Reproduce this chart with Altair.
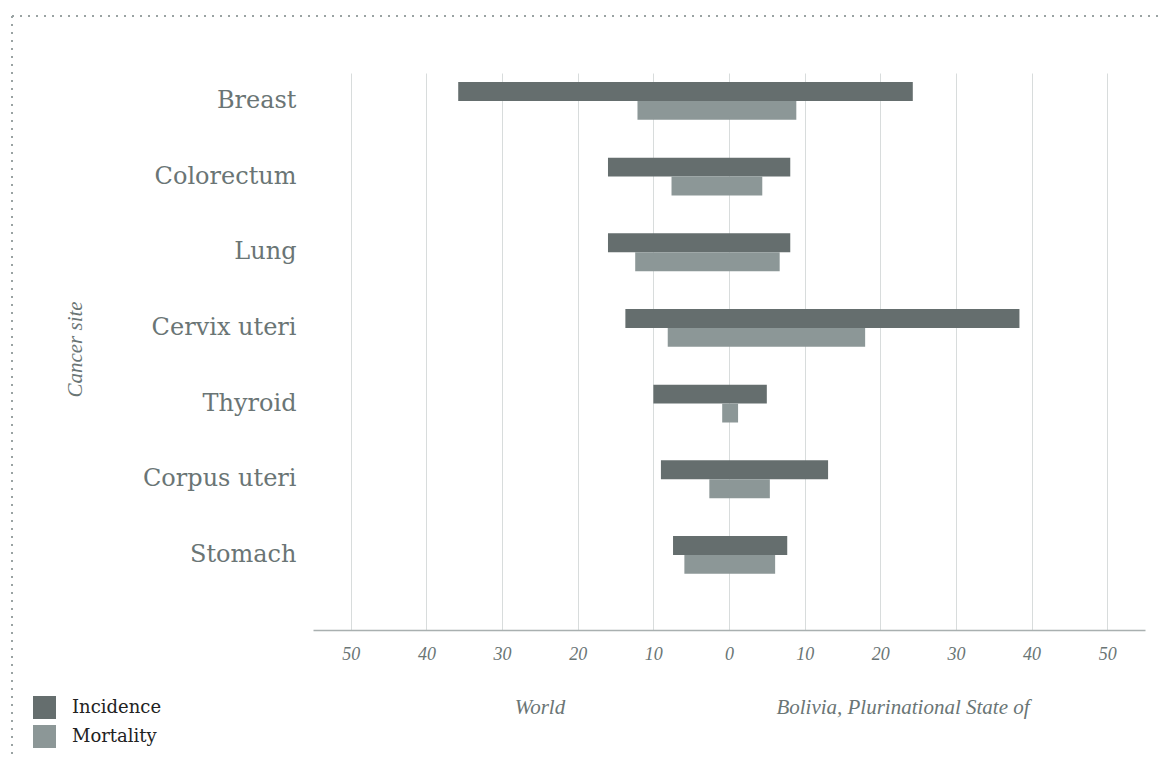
import altair as alt
import pandas as pd

categories = ["Breast", "Colorectum", "Lung", "Cervix uteri", "Thyroid", "Corpus uteri", "Stomach"]
series_names = ["Incidence", "Mortality"]
world_incidence = [35.8, 16.0, 16.0, 13.7, 10.0, 9.0, 7.4]
bolivia_incidence = [24.3, 8.1, 8.1, 38.4, 5.0, 13.1, 7.7]
world_mortality = [12.1, 7.6, 12.4, 8.1, 0.9, 2.6, 5.9]
bolivia_mortality = [8.9, 4.4, 6.7, 18.0, 1.2, 5.4, 6.1]
tick_values = [-50, -40, -30, -20, -10, 0, 10, 20, 30, 40, 50]
region_labels = ["World", "Bolivia, Plurinational State of"]
region_positions = [-25, 23]

colors = ["#656e6e", "#8c9797"]
text_grey = "#6a7575"

rows = []
for i, c in enumerate(categories):
    rows.append({"site": c, "series": "Incidence", "lo": -world_incidence[i], "hi": bolivia_incidence[i]})
    rows.append({"site": c, "series": "Mortality", "lo": -world_mortality[i], "hi": bolivia_mortality[i]})
df = pd.DataFrame(rows)

W, H = 832, 557

xscale = alt.Scale(domain=[-55, 55], nice=False, zero=False)

bars = alt.Chart(df).mark_bar(cornerRadius=0).encode(
    x=alt.X("lo:Q", scale=xscale,
            axis=alt.Axis(values=tick_values, labelExpr="format(abs(datum.value), 'd')",
                          title=None, ticks=False, domain=True, domainColor="#a9b0b0",
                          domainWidth=1.5, grid=True, gridColor="#d8dcdc", gridWidth=1,
                          labelFont="Liberation Serif", labelFontStyle="italic", labelFontSize=18,
                          labelColor=text_grey, labelPadding=15)),
    x2="hi:Q",
    y=alt.Y("site:N", sort=categories,
            scale=alt.Scale(paddingInner=0.5, paddingOuter=0.4305, align=0.138),
            axis=alt.Axis(title="Cancer site", ticks=False, domain=False, grid=False,
                          labelFont="DejaVu Serif", labelFontSize=24, labelColor=text_grey,
                          labelPadding=17, titleFont="Liberation Serif", titleFontStyle="italic",
                          titleFontWeight="normal", titleFontSize=21, titleColor=text_grey,
                          titleX=-238, titleY=276, titleAngle=270, titleAlign="center",
                          titleBaseline="middle")),
    yOffset=alt.YOffset("series:N", sort=series_names),
    color=alt.Color("series:N", sort=series_names,
                    scale=alt.Scale(domain=series_names, range=colors),
                    legend=alt.Legend(title=None, orient="none", legendX=-280, legendY=623,
                                      symbolType="square", symbolSize=529, symbolStrokeWidth=0,
                                      symbolOpacity=1, labelFont="DejaVu Serif", labelFontSize=18,
                                      labelColor="#222222", labelOffset=16, rowPadding=6,
                                      padding=0)),
)

regions_df = pd.DataFrame({"label": region_labels, "pos": region_positions})
region_text = alt.Chart(regions_df).mark_text(
    font="Liberation Serif", fontStyle="italic", fontSize=21, color=text_grey,
    align="center", baseline="middle"
).encode(x=alt.X("pos:Q", scale=xscale), y=alt.value(H + 78), text="label:N")

one = pd.DataFrame({"a": [0]})
border_top = alt.Chart(one).mark_rule(color="#9aa3a3", strokeWidth=2, strokeDash=[2, 6]).encode(
    x=alt.value(-301), x2=alt.value(W + 20), y=alt.value(-57))
border_left = alt.Chart(one).mark_rule(color="#9aa3a3", strokeWidth=2, strokeDash=[2, 6]).encode(
    x=alt.value(-301), y=alt.value(-57), y2=alt.value(H + 130))

chart = alt.layer(border_top, border_left, bars, region_text).properties(
    width=W, height=H,
    autosize=alt.AutoSizeParams(type="none"),
    padding={"left": 305, "top": 65, "right": 15, "bottom": 125},
).configure_view(strokeWidth=0).resolve_scale(x="shared")

chart.save("out.html", embed_options={"renderer": "svg", "actions": False})
